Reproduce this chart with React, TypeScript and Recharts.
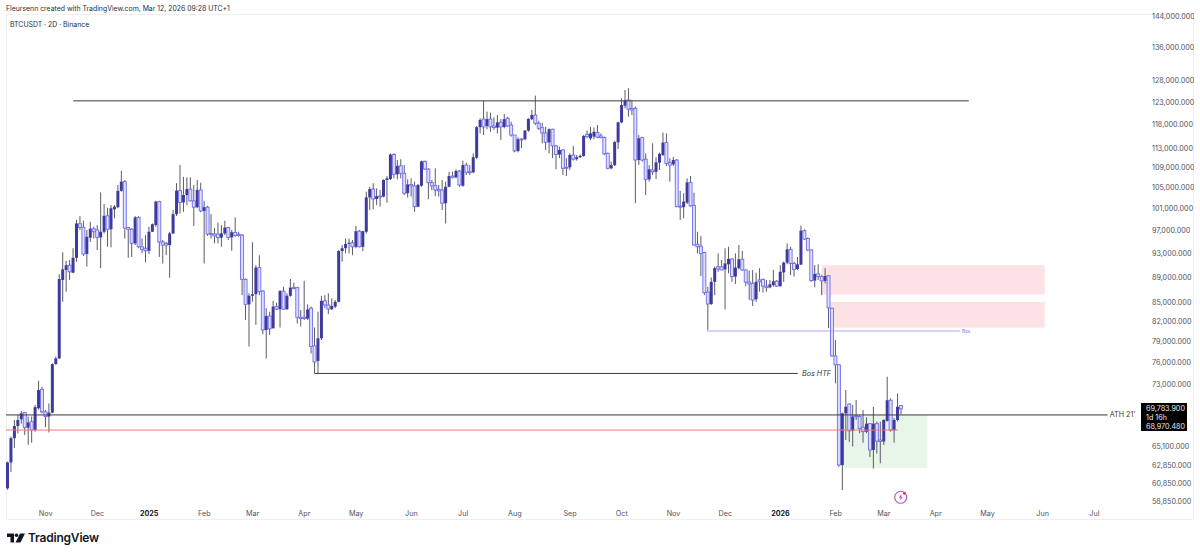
import { Bar, ComposedChart, ReferenceArea, ReferenceDot, ReferenceLine, XAxis, YAxis } from "recharts"

// BTCUSDT 2D candles, values in thousands of USDT
const opens = [
  60.25, 63.2, 66.1, 67.6, 68.45, 69.3, 67.4, 68.15, 67.1, 69.85, 72.35, 69.4, 68.8, 69.3, 75.8, 76.6, 88.55, 90.2, 91.0, 89.75,
  92.25, 98.25, 97.6, 92.9, 95.75, 97.35, 97.12, 95.8, 96.8, 99.7, 97.25, 100.9, 101.3, 104.4, 106.2, 97.55, 97.25, 94.75, 99.4, 94.15,
  93.9, 93.45, 96.8, 98.0, 102.35, 95.0, 94.75, 94.45, 96.5, 100.0, 104.45, 102.2, 103.6, 104.75, 102.5, 101.3, 104.57, 100.6, 101.3, 96.5,
  96.4, 96.4, 95.75, 96.5, 97.55, 95.8, 96.65, 96.35, 96.2, 88.65, 84.65, 86.0, 86.25, 90.6, 86.75, 80.73, 82.85, 81.0, 84.3, 83.9,
  86.75, 83.9, 86.0, 87.35, 87.3, 82.65, 82.65, 82.45, 84.05, 78.4, 76.25, 79.5, 85.2, 84.55, 83.9, 84.3, 85.05, 93.4, 93.9, 94.65,
  94.85, 94.15, 96.9, 94.15, 96.8, 103.15, 104.75, 102.85, 103.4, 103.3, 106.52, 106.7, 111.65, 107.65, 109.35, 107.85, 103.95, 105.65, 105.35, 101.4,
  105.4, 110.25, 108.7, 106.0, 105.4, 104.7, 104.57, 102.05, 105.2, 107.3, 107.05, 108.3, 105.4, 109.5, 108.15, 108.05, 111.0, 117.45, 119.2, 117.7,
  119.2, 117.7, 117.35, 118.5, 117.5, 119.4, 117.9, 115.75, 112.4, 114.9, 114.85, 116.7, 119.2, 120.1, 118.3, 117.35, 116.2, 114.2, 117.0, 113.45,
  111.65, 112.59, 109.05, 109.05, 111.55, 110.7, 111.1, 111.35, 115.9, 115.05, 115.4, 116.3, 115.55, 115.2, 111.9, 108.85, 109.5, 114.2, 118.5, 122.2,
  123.5, 121.6, 121.6, 110.53, 115.2, 110.7, 106.65, 108.51, 108.15, 110.0, 111.55, 114.15, 110.0, 109.65, 110.53, 101.5, 101.3, 102.15, 106.05, 101.65,
  94.6, 94.25, 93.15, 86.6, 84.7, 88.25, 90.75, 90.75, 90.3, 91.15, 92.05, 89.1, 90.5, 92.0, 90.2, 88.2, 88.0, 85.45, 88.55, 88.65,
  87.55, 87.35, 87.7, 88.35, 87.55, 89.8, 91.45, 93.7, 91.3, 90.35, 91.1, 97.0, 95.6, 93.59, 88.45, 89.55, 89.1, 88.4, 89.25, 84.05,
  76.95, 75.7, 62.9, 69.2, 70.4, 67.0, 68.9, 68.8, 67.45, 66.9, 67.9, 64.67, 67.9, 65.87, 65.7, 68.25, 70.9, 67.1, 68.36, 70.2,
]

const closes = [
  63.2, 66.1, 67.6, 68.36, 69.2, 67.4, 68.05, 67.1, 70.0, 72.25, 69.4, 68.8, 69.3, 75.8, 76.6, 88.7, 90.3, 91.0, 89.9, 92.25,
  98.3, 97.6, 92.9, 95.9, 97.35, 96.8, 95.8, 96.8, 99.7, 97.25, 101.1, 101.4, 104.4, 106.2, 97.45, 97.25, 94.75, 99.4, 94.15, 93.7,
  93.45, 96.8, 98.15, 102.35, 95.0, 94.45, 94.45, 96.5, 100.0, 104.45, 102.2, 103.6, 104.75, 102.5, 101.3, 104.57, 100.6, 101.3, 96.4, 96.35,
  96.05, 95.75, 96.5, 97.55, 95.8, 96.7, 96.15, 96.15, 88.65, 84.65, 86.0, 86.25, 90.6, 86.65, 80.73, 82.85, 80.9, 84.3, 83.9, 86.75,
  83.9, 86.0, 87.3, 87.15, 82.65, 82.45, 82.45, 83.85, 78.3, 76.1, 79.5, 85.2, 84.55, 83.9, 84.4, 85.05, 93.4, 93.9, 94.65, 94.85,
  94.15, 96.9, 94.15, 96.9, 103.15, 104.75, 102.85, 103.4, 103.3, 106.52, 106.85, 111.65, 107.65, 109.35, 107.85, 103.95, 105.65, 105.35, 101.4, 105.55,
  110.25, 108.7, 106.0, 105.35, 104.57, 104.4, 102.05, 105.2, 107.3, 107.05, 108.3, 105.55, 109.5, 108.05, 108.05, 111.1, 117.45, 119.02, 117.5, 119.2,
  117.5, 117.35, 118.5, 117.5, 119.2, 117.7, 115.75, 112.4, 114.85, 114.7, 116.7, 119.25, 120.1, 118.3, 117.2, 116.2, 114.2, 117.0, 113.45, 111.65,
  112.59, 108.85, 108.85, 111.55, 110.7, 111.1, 111.4, 115.55, 115.4, 116.1, 116.45, 115.3, 115.2, 111.8, 108.85, 109.5, 114.25, 118.5, 122.35, 123.35,
  121.4, 121.24, 110.53, 115.05, 110.53, 106.65, 108.65, 108.15, 110.05, 111.8, 114.15, 109.8, 109.5, 110.53, 101.4, 101.3, 102.35, 106.05, 101.55, 94.45,
  94.15, 93.0, 86.5, 84.7, 88.25, 90.5, 90.35, 90.2, 91.3, 92.05, 89.1, 90.6, 92.0, 90.2, 88.2, 87.9, 85.33, 88.25, 88.25, 87.55,
  87.3, 87.85, 88.35, 87.55, 89.9, 91.45, 93.7, 91.3, 90.3, 91.15, 97.0, 95.5, 93.59, 88.45, 89.55, 89.1, 88.4, 89.2, 84.1, 76.95,
  75.7, 62.9, 69.2, 70.05, 67.0, 68.8, 68.8, 67.3, 66.9, 67.9, 64.67, 67.9, 65.75, 65.7, 68.36, 70.9, 67.1, 68.36, 70.05, 69.78,
]

const highs = [
  63.3, 66.3, 68.36, 69.0, 69.5, 69.4, 68.8, 68.8, 70.3, 73.5, 72.7, 69.63, 70.5, 75.9, 76.85, 89.5, 93.2, 91.75, 91.88, 93.9,
  98.93, 99.65, 98.8, 97.12, 98.6, 97.7, 98.0, 104.1, 101.9, 101.2, 101.7, 101.7, 105.55, 108.35, 106.52, 97.7, 97.45, 99.65, 99.65, 95.6,
  96.2, 97.7, 98.3, 102.5, 102.5, 95.34, 95.0, 96.8, 100.78, 105.9, 109.5, 107.15, 107.05, 107.05, 105.55, 106.52, 106.0, 102.5, 101.55, 100.0,
  97.45, 98.45, 98.0, 98.8, 97.7, 97.12, 99.4, 96.8, 96.4, 88.8, 86.4, 94.95, 91.0, 92.7, 86.92, 84.05, 83.5, 85.2, 84.9, 86.92,
  87.45, 86.4, 88.7, 88.1, 87.45, 83.77, 88.4, 84.65, 84.3, 81.1, 83.5, 86.0, 86.1, 86.4, 85.6, 85.33, 93.59, 94.45, 95.6, 95.6,
  95.34, 97.85, 97.12, 97.0, 104.25, 105.2, 105.9, 104.9, 104.57, 106.65, 107.3, 111.9, 111.9, 110.53, 110.7, 109.5, 106.65, 106.85, 106.2, 105.75,
  110.4, 110.4, 108.85, 106.52, 108.85, 105.55, 106.52, 106.2, 108.15, 108.15, 108.65, 108.51, 110.4, 110.0, 109.5, 111.9, 117.7, 119.4, 123.3, 120.85,
  120.65, 119.6, 120.1, 119.2, 120.35, 119.75, 118.65, 115.75, 115.25, 115.05, 116.84, 119.4, 121.24, 124.5, 118.85, 118.4, 117.5, 117.2, 117.1, 113.65,
  113.3, 112.75, 110.9, 111.9, 113.45, 111.55, 111.65, 115.75, 116.7, 117.5, 117.4, 117.9, 116.1, 115.4, 112.05, 110.2, 114.5, 118.65, 123.9, 125.8,
  126.2, 123.5, 122.0, 115.75, 115.4, 111.9, 109.5, 114.0, 111.1, 112.05, 116.3, 116.1, 110.9, 111.2, 110.7, 104.4, 103.95, 106.85, 107.3, 104.05,
  96.8, 96.05, 93.3, 87.45, 88.95, 90.75, 93.0, 91.88, 93.9, 94.15, 92.15, 93.0, 94.45, 93.45, 90.3, 90.1, 90.2, 89.75, 90.5, 88.8,
  88.55, 88.55, 90.2, 88.55, 91.0, 91.6, 94.75, 94.15, 91.6, 92.4, 97.9, 97.25, 95.8, 93.7, 91.0, 91.15, 89.35, 90.5, 89.3, 84.05,
  79.25, 75.8, 69.3, 72.25, 70.5, 70.3, 70.93, 69.0, 69.63, 68.7, 67.95, 70.05, 68.15, 68.15, 68.45, 74.05, 71.15, 68.6, 71.8, 70.3,
]

const lows = [
  60.1, 62.1, 64.9, 66.7, 67.9, 66.5, 65.3, 65.55, 66.9, 69.7, 69.2, 67.45, 66.8, 69.2, 75.7, 76.5, 85.05, 86.65, 88.55, 89.65,
  91.6, 97.12, 92.55, 90.75, 95.0, 95.6, 93.6, 90.5, 96.5, 94.15, 94.05, 99.25, 101.1, 104.25, 95.6, 92.25, 92.4, 94.45, 93.9, 93.0,
  91.5, 92.9, 96.8, 97.7, 92.4, 91.3, 92.7, 88.9, 96.4, 99.65, 100.15, 100.45, 101.7, 102.35, 97.85, 101.1, 100.35, 91.3, 96.05, 95.6,
  94.75, 94.75, 94.15, 96.2, 95.34, 93.45, 95.9, 95.9, 86.1, 82.24, 78.3, 85.05, 81.5, 86.1, 80.1, 76.6, 80.0, 80.9, 83.77, 81.1,
  83.77, 83.77, 85.85, 87.05, 81.7, 81.25, 82.24, 82.24, 77.3, 74.5, 74.5, 79.25, 84.05, 83.15, 83.77, 84.05, 84.95, 91.6, 93.0, 93.0,
  92.7, 93.9, 94.05, 93.4, 96.5, 100.78, 100.9, 101.7, 101.4, 103.15, 102.15, 106.52, 106.85, 106.65, 106.85, 103.6, 103.1, 103.3, 100.45, 101.3,
  105.2, 108.51, 102.8, 104.57, 103.4, 103.3, 100.78, 98.3, 105.1, 106.85, 106.85, 105.2, 105.2, 107.5, 107.5, 107.85, 110.7, 116.1, 115.75, 117.0,
  116.45, 116.84, 116.1, 114.7, 117.2, 117.5, 115.4, 112.1, 112.1, 112.95, 114.7, 116.45, 119.02, 117.9, 116.84, 114.0, 112.59, 111.9, 110.9, 108.65,
  110.9, 107.5, 107.3, 108.51, 110.4, 110.4, 110.9, 111.2, 115.05, 114.7, 114.85, 115.05, 115.05, 111.5, 108.65, 108.65, 109.3, 112.8, 118.3, 121.6,
  119.75, 120.1, 102.05, 109.5, 110.2, 103.6, 106.2, 107.5, 106.7, 108.51, 111.35, 109.3, 106.2, 109.3, 101.3, 98.93, 99.25, 101.9, 101.4, 94.35,
  93.0, 89.2, 86.1, 80.73, 84.55, 86.1, 89.9, 90.2, 83.85, 89.65, 88.25, 87.9, 90.3, 90.1, 87.55, 85.33, 84.4, 85.05, 86.65, 86.5,
  86.65, 87.2, 87.45, 87.45, 87.45, 88.25, 91.15, 89.35, 89.1, 90.2, 91.0, 95.34, 93.4, 88.25, 87.35, 88.55, 86.1, 88.0, 81.0, 76.85,
  73.15, 62.7, 60.06, 65.87, 65.65, 65.1, 68.36, 66.7, 65.55, 66.7, 63.85, 62.5, 64.25, 63.1, 65.27, 68.15, 66.9, 65.55, 68.2, 69.1,
]

const priceTicks = [144, 136, 128, 123, 118, 113, 109, 105, 101, 97, 93, 89, 85, 82, 79, 76, 73, 65.1, 62.85, 60.85, 58.85]
const monthTicks = [11, 26, 41, 57, 71, 86, 101, 117, 132, 147, 163, 178, 193, 208, 224, 240, 254, 269, 284, 300, 315]
const monthLabels = ["Nov", "Dec", "2025", "Feb", "Mar", "Apr", "May", "Jun", "Jul", "Aug", "Sep", "Oct", "Nov", "Dec", "2026", "Feb", "Mar", "Apr", "May", "Jun", "Jul"]

const rows = opens.map((o, i) => ({
  t: i,
  open: o,
  close: closes[i],
  wick: [lows[i], highs[i]],
  body: [Math.min(o, closes[i]), Math.max(o, closes[i])],
}))

const UP = "#3f3a9c"
const DOWN = "#6c6cee"
const DOWN_FILL = "#dedefd"
const axisText = "#50535e"

function Wick({ x, y, width, height }: any) {
  return <rect x={x + width / 2 - 0.5} y={y} width={1} height={Math.max(height, 1)} fill="#5c5c66" />
}

function Body({ x, y, width, height, payload }: any) {
  const up = payload.close >= payload.open
  const h = Math.max(height, 1)
  if (up) return <rect x={x} y={y} width={width} height={h} fill={UP} />
  return <rect x={x} y={y} width={width} height={h} fill={DOWN_FILL} stroke={DOWN} strokeWidth={0.9} />
}

function MonthTick({ x, y, index }: any) {
  const label = monthLabels[index]
  const bold = label.length === 4
  return (
    <text x={x} y={y - 1} textAnchor="middle" fontSize={7.2} fontWeight={bold ? 700 : 400} fill={bold ? "#131722" : axisText} fontFamily="Inter">
      {label}
    </text>
  )
}

const formatPrice = (v: number) =>
  (v * 1000).toLocaleString("en-US", { minimumFractionDigits: 3, maximumFractionDigits: 3 })

function Chart() {
  return (
    <ComposedChart
      width={1194}
      height={520}
      data={rows}
      barSize={3}
      barGap={-3}
      margin={{ top: 15, right: 0, bottom: 0, left: 6 }}
      style={{ position: "absolute", left: 0, top: 0 }}
    >
      <XAxis
        dataKey="t"
        type="number"
        domain={[-0.5, 328.8]}
        ticks={monthTicks}
        interval={0}
        height={15}
        tick={<MonthTick />}
        tickLine={false}
        axisLine={false}
        tickMargin={6}
      />
      <YAxis
        orientation="right"
        type="number"
        scale="log"
        domain={[58.42, 144.5]}
        allowDataOverflow
        ticks={priceTicks}
        interval={0}
        width={52}
        tickFormatter={formatPrice}
        tick={{ fontSize: 7.2, fill: axisText, fontFamily: "Inter" }}
        tickLine={false}
        axisLine={false}
        tickMargin={4}
      />

      <ReferenceArea x1={236} x2={300.6} y1={86.2} y2={91} fill="#fbdde1" fillOpacity={0.85} stroke="none" />
      <ReferenceArea x1={238.6} x2={300.6} y1={81.05} y2={85} fill="#fbdde1" fillOpacity={0.85} stroke="none" />
      <ReferenceArea x1={241.7} x2={266.6} y1={62.55} y2={69} fill="#e8f5e9" fillOpacity={1} stroke="none" />

      <Bar dataKey="wick" isAnimationActive={false} shape={<Wick />} />
      <Bar dataKey="body" isAnimationActive={false} shape={<Body />} />

      <ReferenceLine segment={[{ x: 19, y: 123.3 }, { x: 278.6, y: 123.3 }]} stroke="#3a3a3a" strokeWidth={1} />
      <ReferenceLine segment={[{ x: -0.5, y: 69 }, { x: 318.8, y: 69 }]} stroke="#3a3a3a" strokeWidth={1} />
      <ReferenceLine segment={[{ x: -0.5, y: 67.1 }, { x: 258, y: 67.1 }]} stroke="#ec7a7a" strokeWidth={1} />
      <ReferenceLine segment={[{ x: 89, y: 74.5 }, { x: 229, y: 74.5 }]} stroke="#3a3a3a" strokeWidth={1} />
      <ReferenceLine segment={[{ x: 202.7, y: 80.58 }, { x: 276, y: 80.58 }]} stroke="#a0a0f4" strokeWidth={0.9} />

      <ReferenceDot
        x={228.8}
        y={74.5}
        r={0}
        stroke="none"
        label={{ value: "Bos HTF", position: "right", fontSize: 7.2, fontStyle: "italic", fill: "#3a3a3a", fontFamily: "Inter" }}
      />
      <ReferenceDot
        x={275.2}
        y={80.58}
        r={0}
        stroke="none"
        label={{ value: "Bos", position: "right", fontSize: 4.6, fill: "#7272e8", fontFamily: "Inter" }}
      />
      <ReferenceDot
        x={318}
        y={69}
        r={0}
        stroke="none"
        label={{ value: "ATH 21'", position: "right", fontSize: 7.2, fill: "#3a3a3a", fontFamily: "Inter" }}
      />
    </ComposedChart>
  )
}

export default function App() {
  return (
    <div style={{ position: "absolute", left: 0, top: 0, width: 1200, height: 555, background: "#fff", overflow: "hidden", fontFamily: "Inter" }}>
      <div style={{ position: "absolute", left: 6, top: 14, width: 1188, height: 506, border: "1px solid #eeeeef", borderRadius: 2, boxSizing: "border-box" }} />
      <Chart />
      <div style={{ position: "absolute", left: 6, top: 4, fontSize: 6.9, color: "#2a2e39", whiteSpace: "nowrap" }}>
        Fleursenn created with TradingView.com, Mar 12, 2026 09:28 UTC+1
      </div>
      <div style={{ position: "absolute", left: 10, top: 20, fontSize: 6.9, color: "#2a2e39", whiteSpace: "nowrap" }}>
        BTCUSDT · 2D · Binance
      </div>

      <div style={{ position: "absolute", left: 1141, top: 403, width: 46, height: 28, background: "#000", color: "#e8e8e8", fontSize: 7.2, lineHeight: "9.2px", paddingLeft: 5, paddingTop: 0.5, boxSizing: "border-box", whiteSpace: "nowrap" }}>
        <div>69,783.900</div>
        <div>1d 16h</div>
        <div>68,970.480</div>
      </div>

      <svg width={26} height={22} style={{ position: "absolute", left: 891, top: 486 }}>
        <circle cx={9.7} cy={11.3} r={6} fill="none" stroke="#b259b8" strokeWidth={1.1} />
        <path d="M10.8 7.5 L7.7 11.8 L9.7 11.8 L8.7 15 L11.8 10.7 L9.8 10.7 Z" fill="#b259b8" />
        <circle cx={13.4} cy={7.3} r={1.5} fill="#e63946" />
      </svg>

      <svg width={18} height={10} viewBox="0 0 36 20" style={{ position: "absolute", left: 7, top: 533 }}>
        <path d="M0 1 H14 V19 H7 V8 H0 Z" fill="#131722" />
        <circle cx={19} cy={4.5} r={3.6} fill="#131722" />
        <path d="M26 1 H36 L27 19 H17 Z" fill="#131722" />
      </svg>
      <div style={{ position: "absolute", left: 28, top: 530, fontSize: 12, fontWeight: 600, color: "#131722", letterSpacing: -0.2 }}>TradingView</div>
    </div>
  )
}
